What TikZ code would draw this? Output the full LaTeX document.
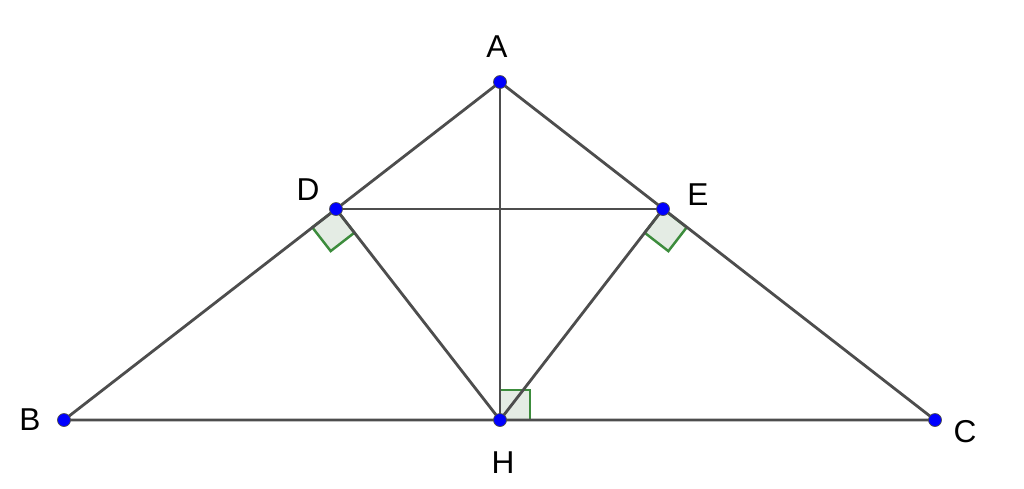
\documentclass[tikz,border=0pt]{standalone}
\usepackage{fontspec}
\setmainfont{Liberation Sans}
\usetikzlibrary{calc}
\definecolor{seg}{HTML}{4D4D4D}
\definecolor{ptblue}{HTML}{0000FF}
\definecolor{rag}{HTML}{3C8C3C}
\definecolor{ragfill}{HTML}{E4ECE4}
\tikzset{
  segline/.style={draw=seg,line width=1.6pt},
  ptnode/.style={circle,fill=ptblue,draw=black!70,line width=0.4pt,inner sep=0pt,minimum size=0.26cm},
  lbl/.style={font=\fontsize{18}{21}\selectfont,text=black,inner sep=0pt},
  ramark/.style={draw=rag,fill=ragfill,line width=1.4pt,line join=miter}
}
\begin{document}
\begin{tikzpicture}[x=0.02cm,y=-0.02cm]
\useasboundingbox (0,0) rectangle (1024,488);
\coordinate (A) at (500,82);
\coordinate (B) at (64,420);
\coordinate (C) at (935,420);
\coordinate (H) at (500,420);
\coordinate (D) at (336,209);
\coordinate (E) at (663,209);
% right angle marks
\coordinate (D1) at ($(D)!0.6cm!(B)$);
\coordinate (D2) at ($(D)!0.6cm!(H)$);
\path[ramark] (D) -- (D1) -- ($(D1)+(D2)-(D)$) -- (D2) -- cycle;
\coordinate (E1) at ($(E)!0.6cm!(C)$);
\coordinate (E2) at ($(E)!0.6cm!(H)$);
\path[ramark] (E) -- (E1) -- ($(E1)+(E2)-(E)$) -- (E2) -- cycle;
\coordinate (H1) at ($(H)!0.6cm!(C)$);
\coordinate (H2) at ($(H)!0.6cm!(A)$);
\path[ramark] (H) -- (H1) -- ($(H1)+(H2)-(H)$) -- (H2) -- cycle;
% segments
\draw[segline] (A) -- (B) -- (C) -- cycle;
\draw[segline] (A) -- (H);
\draw[segline] (D) -- (E);
\draw[segline] (D) -- (H) -- (E);
% points
\foreach \p in {A,B,C,D,E,H} \node[ptnode] (n\p) at (\p) {};
% labels
\node[lbl] (lA) at (497,47) {A};
\node[lbl] (lB) at (30,420) {B};
\node[lbl] (lC) at (965,432) {C};
\node[lbl] (lD) at (308,190) {D};
\node[lbl] (lE) at (698,195) {E};
\node[lbl] (lH) at (503,463) {H};
\end{tikzpicture}
\end{document}
